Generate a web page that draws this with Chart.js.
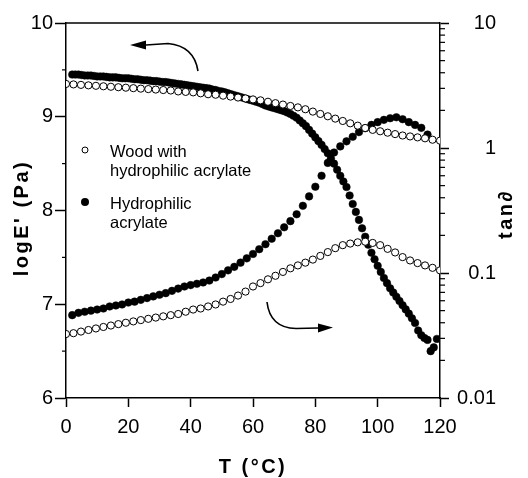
<!DOCTYPE html>
<html>
<head>
<meta charset="utf-8">
<script src="https://cdn.jsdelivr.net/npm/chart.js@4.4.1/dist/chart.umd.min.js"></script>
<style>
  html, body { margin: 0; padding: 0; background: #fff; }
  #wrap { width: 528px; height: 478px; }
</style>
</head>
<body>
<div id="wrap"><canvas id="c" width="528" height="478"></canvas></div>
<script>
// logE' and tan(delta) vs temperature, wood with hydrophilic acrylate vs acrylate alone.

// open circles: wood with hydrophilic acrylate
var tOpen = [0, 2.4, 4.8, 7.2, 9.6, 12, 14.4, 16.8, 19.2, 21.6, 24, 26.4, 28.8, 31.2, 33.6, 36, 38.4, 40.8,
  43.2, 45.6, 48, 50.4, 52.8, 55.2, 57.6, 60, 62.4, 64.8, 67.2, 69.6, 72, 74.4, 76.8, 79.2, 81.6, 84, 86.4,
  88.8, 91.2, 93.6, 96, 98.4, 100.8, 103.2, 105.6, 108, 110.4, 112.8, 115.2, 117.6, 120];
var woodLogE = [9.35, 9.345, 9.34, 9.335, 9.33, 9.325, 9.32, 9.315, 9.31, 9.305, 9.30, 9.295, 9.29, 9.285,
  9.28, 9.27, 9.265, 9.26, 9.25, 9.24, 9.235, 9.225, 9.215, 9.205, 9.195, 9.185, 9.175, 9.16, 9.145, 9.13,
  9.115, 9.10, 9.08, 9.055, 9.03, 9.005, 8.98, 8.955, 8.93, 8.905, 8.88, 8.86, 8.845, 8.83, 8.815, 8.80,
  8.79, 8.78, 8.77, 8.755, 8.745];
var woodTan = [0.0325, 0.033, 0.034, 0.035, 0.036, 0.037, 0.038, 0.039, 0.040, 0.041, 0.042, 0.043, 0.044,
  0.045, 0.046, 0.047, 0.049, 0.051, 0.052, 0.054, 0.056, 0.059, 0.062, 0.066, 0.071, 0.078, 0.083, 0.089,
  0.095, 0.102, 0.109, 0.115, 0.121, 0.128, 0.137, 0.147, 0.158, 0.167, 0.172, 0.176, 0.178, 0.174, 0.167,
  0.156, 0.146, 0.134, 0.126, 0.120, 0.115, 0.110, 0.105];

// filled circles: hydrophilic acrylate
var tAcrylE = [2, 3, 4, 5, 6, 7, 8, 9, 10, 11, 12, 13, 14, 15, 16, 17, 18, 19, 20, 21, 22, 23, 24, 25, 26, 27,
  28, 29, 30, 31, 32, 33, 34, 35, 36, 37, 38, 39, 40, 41, 42, 43, 44, 45, 46, 47, 48, 49, 50, 51, 52, 53, 54,
  55, 56, 57, 58, 59, 60, 61, 62, 63, 64, 65, 66, 67, 68, 69, 70, 71, 72, 73, 74, 75, 76, 77, 78, 79, 80, 81,
  82, 83, 84, 85, 86, 87, 88, 89, 90, 91, 92, 93, 94, 95, 96, 97, 98, 99, 100, 101, 102, 103, 104, 105, 106,
  107, 108, 109, 110, 111, 112, 113, 114, 115, 116, 117, 118, 119];
var acrylLogE = [9.45, 9.45, 9.45, 9.445, 9.44, 9.44, 9.44, 9.435, 9.43, 9.43, 9.43, 9.425, 9.42, 9.42, 9.42,
  9.415, 9.41, 9.41, 9.41, 9.405, 9.40, 9.40, 9.395, 9.39, 9.39, 9.385, 9.38, 9.38, 9.375, 9.37, 9.37, 9.365,
  9.36, 9.355, 9.35, 9.345, 9.34, 9.335, 9.33, 9.325, 9.32, 9.315, 9.31, 9.305, 9.30, 9.29, 9.285, 9.275,
  9.27, 9.26, 9.25, 9.24, 9.23, 9.22, 9.21, 9.20, 9.19, 9.18, 9.17, 9.16, 9.15, 9.135, 9.12, 9.11, 9.10,
  9.09, 9.08, 9.07, 9.06, 9.045, 9.03, 9.01, 8.99, 8.96, 8.93, 8.90, 8.86, 8.82, 8.78, 8.74, 8.70, 8.655,
  8.61, 8.555, 8.50, 8.435, 8.37, 8.31, 8.25, 8.16, 8.07, 7.985, 7.90, 7.81, 7.72, 7.635, 7.55, 7.48, 7.41,
  7.345, 7.28, 7.225, 7.17, 7.125, 7.08, 7.035, 6.99, 6.945, 6.90, 6.85, 6.80, 6.72, 6.67, 6.64, 6.62, 6.50,
  6.54, 6.63];
var tAcrylTan = [2, 4, 6, 8, 10, 12, 14, 16, 18, 20, 22, 24, 26, 28, 30, 32, 34, 36, 38, 40, 42, 44, 46, 48,
  50, 52, 54, 56, 58, 60, 62, 64, 66, 68, 70, 72, 74, 76, 78, 80, 82, 84, 86, 88, 90, 92, 94, 96, 98, 100,
  102, 104, 106, 108, 110, 112, 114, 116];
var acrylTan = [0.046, 0.048, 0.049, 0.050, 0.051, 0.052, 0.054, 0.055, 0.056, 0.058, 0.059, 0.061, 0.063,
  0.065, 0.067, 0.069, 0.072, 0.075, 0.078, 0.080, 0.082, 0.084, 0.087, 0.092, 0.098, 0.105, 0.112, 0.121,
  0.131, 0.142, 0.155, 0.170, 0.188, 0.208, 0.232, 0.260, 0.295, 0.345, 0.41, 0.49, 0.60, 0.76, 0.92, 1.03,
  1.13, 1.23, 1.34, 1.44, 1.53, 1.61, 1.68, 1.73, 1.76, 1.70, 1.61, 1.53, 1.45, 1.28];

var xTicks = [0, 20, 40, 60, 80, 100, 120];
var logETicks = [6, 7, 8, 9, 10];
var logEMinor = [6.5, 7.5, 8.5, 9.5];
var tanTicks = [0.01, 0.1, 1, 10];
var tanTickLabels = ['0.01', '0.1', '1', '10'];

var legendLines = [['Wood with', 'hydrophilic acrylate'], ['Hydrophilic', 'acrylate']];

// arrows, in (T, value-on-left-axis): start, control, curve end, shaft end, tip
var arrowToLeft = [[42.35, 9.488], [41.07, 9.755], [32.73, 9.781], [25.67, 9.765], [20.53, 9.765]];
var arrowToRight = [[64.49, 7.024], [65.45, 6.747], [73.8, 6.741], [80.86, 6.747], [85.67, 6.752]];

var FONT = '"Liberation Sans", Arial, Helvetica, sans-serif';

function pts(xs, ys) {
  return xs.map(function (x, i) { return { x: x, y: ys[i] }; });
}

var decor = {
  id: 'decor',
  afterDraw: function (chart) {
    var ctx = chart.ctx, a = chart.chartArea;
    var sx = chart.scales.x, sy = chart.scales.y, sy2 = chart.scales.y2;
    ctx.save();
    ctx.strokeStyle = '#000';
    ctx.fillStyle = '#000';
    ctx.lineWidth = 1.5;

    // top frame line
    ctx.beginPath();
    ctx.moveTo(a.left, a.top);
    ctx.lineTo(a.right, a.top);
    ctx.stroke();

    // minor ticks
    ctx.lineWidth = 1.2;
    logEMinor.forEach(function (v) {
      var y = sy.getPixelForValue(v);
      ctx.beginPath(); ctx.moveTo(a.left - 4, y); ctx.lineTo(a.left, y); ctx.stroke();
    });
    [0.01, 0.1, 1].forEach(function (d) {
      for (var k = 2; k <= 9; k++) {
        var y = sy2.getPixelForValue(d * k);
        ctx.beginPath(); ctx.moveTo(a.right, y); ctx.lineTo(a.right + 5, y); ctx.stroke();
      }
    });

    // legend
    var lx = a.left + 19, ly = a.top + 127;
    ctx.font = '16.5px ' + FONT;
    ctx.textAlign = 'left';
    ctx.textBaseline = 'alphabetic';
    ctx.lineWidth = 1;
    ctx.beginPath(); ctx.arc(lx, ly, 3, 0, Math.PI * 2);
    ctx.fillStyle = '#fff'; ctx.fill(); ctx.stroke();
    ctx.fillStyle = '#000';
    ctx.fillText(legendLines[0][0], lx + 25, ly + 7);
    ctx.fillText(legendLines[0][1], lx + 25, ly + 26);
    ctx.beginPath(); ctx.arc(lx, ly + 52, 4, 0, Math.PI * 2); ctx.fill();
    ctx.fillText(legendLines[1][0], lx + 25, ly + 59);
    ctx.fillText(legendLines[1][1], lx + 25, ly + 78);

    // curved arrows
    function arrow(p) {
      var q = p.map(function (d) { return [sx.getPixelForValue(d[0]), sy.getPixelForValue(d[1])]; });
      ctx.lineWidth = 1.6;
      ctx.beginPath();
      ctx.moveTo(q[0][0], q[0][1]);
      ctx.quadraticCurveTo(q[1][0], q[1][1], q[2][0], q[2][1]);
      ctx.lineTo(q[3][0], q[3][1]);
      ctx.stroke();
      ctx.beginPath();
      ctx.moveTo(q[4][0], q[4][1]);
      ctx.lineTo(q[3][0], q[3][1] - 4.5);
      ctx.lineTo(q[3][0], q[3][1] + 4.5);
      ctx.closePath();
      ctx.fill();
    }
    arrow(arrowToLeft);
    arrow(arrowToRight);

    // axis titles
    ctx.font = 'bold 20px ' + FONT;
    ctx.textAlign = 'center';
    ctx.textBaseline = 'middle';
    try { ctx.letterSpacing = '2.5px'; } catch (e) {}
    ctx.fillText('T (°C)', (a.left + a.right) / 2, 467);
    ctx.save();
    ctx.translate(22, 218);
    ctx.rotate(-Math.PI / 2);
    ctx.fillText("logE' (Pa)", 0, 0);
    ctx.restore();
    ctx.save();
    ctx.translate(506, 214);
    ctx.rotate(-Math.PI / 2);
    ctx.fillText('tan∂', 0, 0);
    ctx.restore();
    try { ctx.letterSpacing = '0px'; } catch (e) {}
    ctx.restore();
  }
};

var tickFont = { family: FONT, size: 20 };

new Chart(document.getElementById('c'), {
  type: 'scatter',
  data: {
    datasets: [
      { label: 'Wood with hydrophilic acrylate', data: pts(tOpen, woodLogE), yAxisID: 'y', order: 0,
        pointRadius: 3.6, pointBackgroundColor: '#fff', pointBorderColor: '#000', pointBorderWidth: 1 },
      { label: 'Wood with hydrophilic acrylate', data: pts(tOpen, woodTan), yAxisID: 'y2', order: 0,
        pointRadius: 3.6, pointBackgroundColor: '#fff', pointBorderColor: '#000', pointBorderWidth: 1 },
      { label: 'Hydrophilic acrylate', data: pts(tAcrylE, acrylLogE), yAxisID: 'y', order: 1,
        pointRadius: 3.8, pointBackgroundColor: '#000', pointBorderColor: '#000', pointBorderWidth: 0.5 },
      { label: 'Hydrophilic acrylate', data: pts(tAcrylTan, acrylTan), yAxisID: 'y2', order: 1,
        pointRadius: 3.8, pointBackgroundColor: '#000', pointBorderColor: '#000', pointBorderWidth: 0.5 }
    ]
  },
  options: {
    responsive: false,
    animation: false,
    events: [],
    // right padding keeps the right-aligned tan labels ending near x=496
    layout: { padding: { top: 23, left: 0, right: 32, bottom: 0 } },
    plugins: { legend: { display: false }, tooltip: { enabled: false } },
    scales: {
      x: {
        type: 'linear', position: 'bottom', min: 0, max: 120,
        afterBuildTicks: function (s) { s.ticks = xTicks.map(function (v) { return { value: v }; }); },
        afterFit: function (s) { s.height = 80; },
        ticks: { font: tickFont, color: '#000', padding: 8, maxRotation: 0 },
        grid: { drawOnChartArea: false, tickLength: 9, tickColor: '#000', tickWidth: 1.5 },
        border: { color: '#000', width: 1.5 }
      },
      y: {
        type: 'linear', position: 'left', min: 6, max: 10,
        afterBuildTicks: function (s) { s.ticks = logETicks.map(function (v) { return { value: v }; }); },
        afterFit: function (s) { s.width = 66; },
        ticks: { font: tickFont, color: '#000', padding: 2 },
        grid: { drawOnChartArea: false, tickLength: 11, tickColor: '#000', tickWidth: 1.5 },
        border: { color: '#000', width: 1.5 }
      },
      y2: {
        type: 'logarithmic', position: 'right', min: 0.01, max: 10,
        afterBuildTicks: function (s) { s.ticks = tanTicks.map(function (v) { return { value: v }; }); },
        afterFit: function (s) { s.width = 56; },
        ticks: {
          font: tickFont, color: '#000', padding: 8, crossAlign: 'far',
          callback: function (v, i) { return tanTickLabels[i]; }
        },
        grid: { drawOnChartArea: false, tickLength: 9, tickColor: '#000', tickWidth: 1.5 },
        border: { color: '#000', width: 1.5 }
      }
    }
  },
  plugins: [decor]
});
</script>
</body>
</html>
